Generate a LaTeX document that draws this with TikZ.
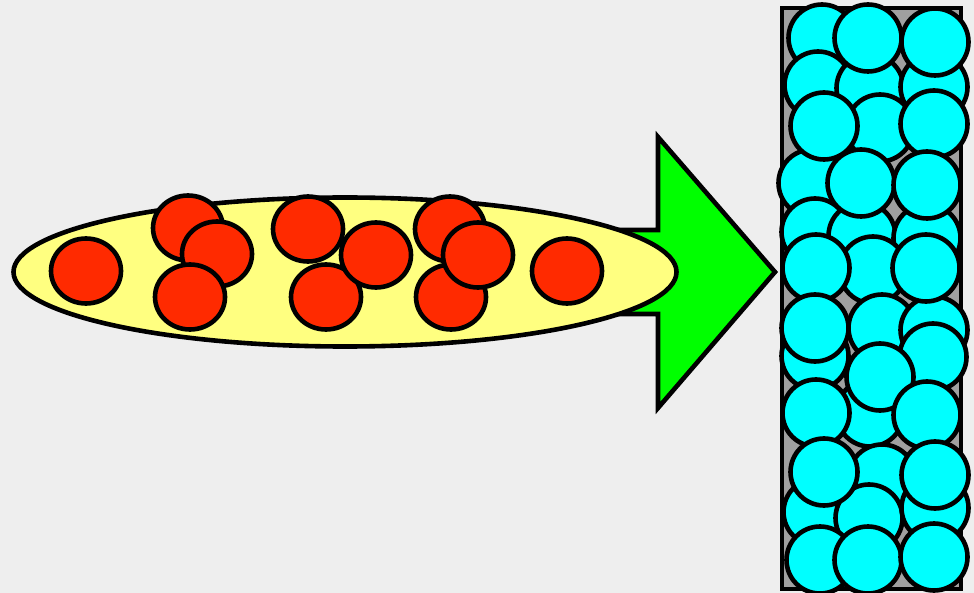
\documentclass[tikz,border=0pt]{standalone}
\usetikzlibrary{shapes.geometric}
\definecolor{bgc}{HTML}{EEEEEE}
\definecolor{redc}{HTML}{FF2A00}
\definecolor{yelc}{HTML}{FFFF80}
\definecolor{grnc}{HTML}{00FF00}
\definecolor{cyac}{HTML}{00FFFF}
\definecolor{wallc}{HTML}{A0A0A0}
\begin{document}
\begin{tikzpicture}[x=1pt,y=-1pt,line width=4.6pt,
  bead/.style={circle,draw=black,fill=cyac,minimum size=67pt,inner sep=0pt},
  drop/.style={ellipse,draw=black,fill=redc,minimum width=70pt,minimum height=65pt,inner sep=0pt},
  carrierbox/.style={ellipse,draw=black,fill=yelc,minimum width=663pt,minimum height=149pt,inner sep=0pt}]
\useasboundingbox (0,0) rectangle (974,593);
\fill[bgc] (0,0) rectangle (974,593);
% wall
\draw[fill=wallc] (782,8) rectangle (961,589);
% lower layer beads
\foreach \n/\x/\y in {c1/822/38, c4/818/85, c5/870/88, c6/934/87, c8/880/128,
  c10/812/183, c13/815/232, c14/862/236, c15/927/238, c17/873/270,
  c20/882/328, c21/934/330, c22/815/356, c24/933/357, c26/870/413,
  c29/882/478, c31/817/512, c32/869/518, c33/935/508, c34/820/560, c35/868/560}
  \node[bead] (\n) at (\x,\y) {};
% upper layer beads
\foreach \n/\x/\y in {c2/868/38, c3/935/42, c7/824/126, c9/934/124, c11/861/183,
  c12/927/185, c16/816/268, c18/926/268, c19/815/328, c23/880/377,
  c25/816/413, c27/927/415, c28/824/472, c30/935/475, c36/934/557}
  \node[bead] (\n) at (\x,\y) {};
% arrow
\draw[fill=grnc,line join=miter] (600,230) -- (658,230) -- (658,137) -- (775,272)
  -- (658,408) -- (658,314) -- (600,314) -- cycle;
% carrier ellipse
\node[carrierbox] (carrier) at (345,272) {};
% red drops
\foreach \n/\x/\y in {r1/86/271, r2/188/228, r3/217/254, r4/190/297,
  r5/308/229, r6/326/297, r7/376/255, r8/450/229, r9/451/297, r10/478/255, r11/567/271}
  \node[drop] (\n) at (\x,\y) {};
\end{tikzpicture}
\end{document}
